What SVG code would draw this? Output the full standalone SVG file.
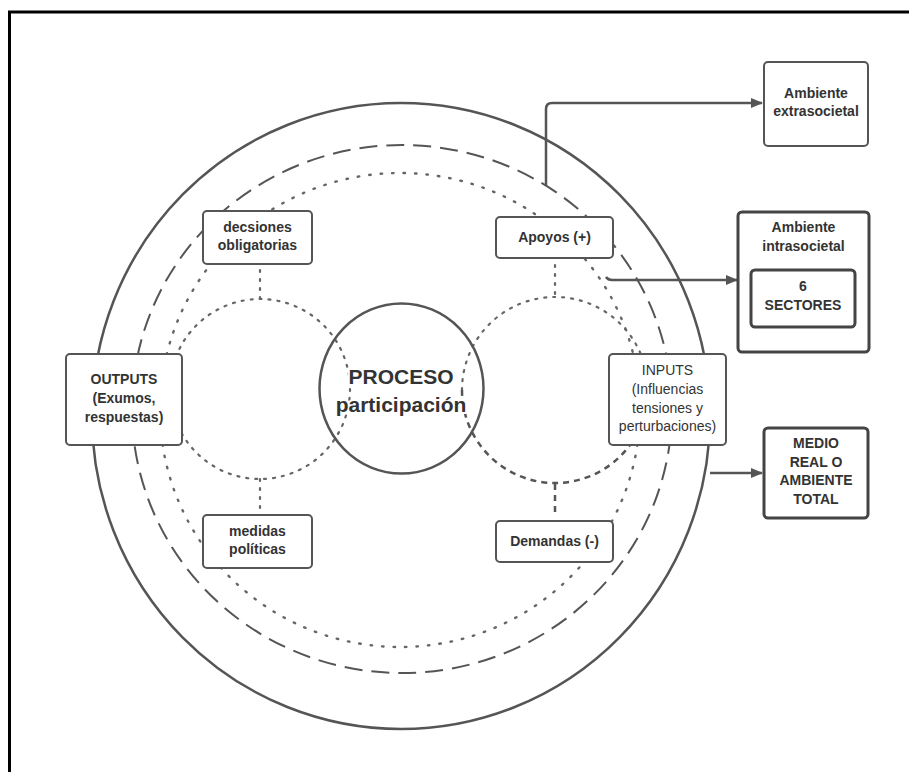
<svg xmlns="http://www.w3.org/2000/svg" width="909" height="772" viewBox="0 0 909 772">
<style>
text{font-family:"Liberation Sans",Arial,sans-serif;fill:#333;text-anchor:middle;dominant-baseline:central}
.b{font-weight:bold;font-size:14px}
.r{font-size:14px}
.c{font-size:21px;font-weight:bold;stroke:#fff;stroke-width:4;paint-order:stroke;stroke-linejoin:round}
.box{fill:#fff;stroke:#555;stroke-width:2}
.tbox{fill:#fff;stroke:#444;stroke-width:3}
.solid{fill:none;stroke:#555;stroke-width:2.5}
.dash{fill:none;stroke:#555;stroke-width:2;stroke-dasharray:18 9}
.dot{fill:none;stroke:#666;stroke-width:2.2;stroke-dasharray:2 7;stroke-linecap:round}
.bigdot{fill:none;stroke:#666;stroke-width:2.4;stroke-dasharray:1.5 10;stroke-linecap:round}
.sdash{fill:none;stroke:#555;stroke-width:2.5;stroke-dasharray:6 5}
.arr{fill:none;stroke:#555;stroke-width:2.5}
</style>
<defs>
<marker id="ah" markerWidth="12" markerHeight="10" refX="11" refY="5" orient="auto" markerUnits="userSpaceOnUse">
<path d="M0,0 L12,5 L0,10 Z" fill="#555"/>
</marker>
</defs>
<rect width="909" height="772" fill="#fff"/>
<g id="frame">
<path d="M9.5,772 V12 H909" fill="none" stroke="#000" stroke-width="3"/>
</g>
<g id="rings">
<ellipse cx="401" cy="416" rx="309" ry="313" class="solid"/>
<ellipse cx="402" cy="409" rx="270" ry="264" class="dash"/>
<ellipse cx="400" cy="410" rx="240" ry="237" class="bigdot"/>
</g>
<g id="inner-circles">
<circle cx="260" cy="389" r="90" class="dot"/>
<path d="M462,390 A93,93 0 0 1 648,390" class="dot"/>
<path d="M462,390 A93,93 0 0 0 648,390" class="sdash"/>
</g>
<g id="connectors">
<line x1="260" y1="270" x2="260" y2="299" class="dot"/>
<line x1="260" y1="479" x2="260" y2="512" class="dot"/>
<line x1="555" y1="265" x2="555" y2="297" class="dot"/>
<line x1="555" y1="484" x2="555" y2="516" class="sdash"/>
<path d="M546,186 V109 Q546,103 552,103 H762" class="arr" marker-end="url(#ah)"/>
<path d="M606,277 Q608,280 612,280 H737" class="arr" marker-end="url(#ah)"/>
<path d="M710,473 H762" class="arr" marker-end="url(#ah)"/>
</g>
<g id="proceso">
<ellipse cx="401.5" cy="388.5" rx="82" ry="85" fill="none" stroke="#555" stroke-width="2.5"/>
<text class="c" x="401" y="376">PROCESO</text>
<text class="c" x="401" y="404">participación</text>
</g>
<g id="decsiones">
<rect x="203" y="211" width="109" height="53" rx="4" class="box"/>
<text class="b" x="257.5" y="227">decsiones</text>
<text class="b" x="257.5" y="245">obligatorias</text>
</g>
<g id="outputs">
<rect x="66" y="354" width="116" height="91" rx="4" class="box"/>
<text class="b" x="124" y="379">OUTPUTS</text>
<text class="b" x="124" y="398">(Exumos,</text>
<text class="b" x="124" y="417">respuestas)</text>
</g>
<g id="medidas">
<rect x="203" y="515" width="109" height="53" rx="4" class="box"/>
<text class="b" x="257.5" y="531">medidas</text>
<text class="b" x="257.5" y="549">políticas</text>
</g>
<g id="apoyos">
<rect x="496" y="217" width="117" height="41" rx="4" class="box"/>
<text class="b" x="554.5" y="237">Apoyos (+)</text>
</g>
<g id="inputs">
<rect x="609" y="354" width="117" height="91" rx="4" class="box"/>
<text class="r" x="667.5" y="370">INPUTS</text>
<text class="r" x="667.5" y="389">(Influencias</text>
<text class="r" x="667.5" y="408">tensiones y</text>
<text class="r" x="667.5" y="426">perturbaciones)</text>
</g>
<g id="demandas">
<rect x="496" y="521" width="117" height="41" rx="4" class="box"/>
<text class="b" x="554.5" y="541">Demandas (-)</text>
</g>
<g id="extrasocietal">
<rect x="764" y="62" width="104" height="84" rx="4" class="box"/>
<text class="b" x="816" y="93">Ambiente</text>
<text class="b" x="816" y="111">extrasocietal</text>
</g>
<g id="intrasocietal">
<rect x="738" y="212" width="131" height="140" rx="4" class="tbox"/>
<text class="b" x="803.5" y="227">Ambiente</text>
<text class="b" x="803.5" y="246">intrasocietal</text>
</g>
<g id="sectores">
<rect x="751" y="270" width="104" height="57" rx="4" class="tbox" stroke-width="2.5"/>
<text class="b" x="803" y="286">6</text>
<text class="b" x="803" y="305" font-size="15">SECTORES</text>
</g>
<g id="medio">
<rect x="764" y="428" width="104" height="90" rx="4" class="tbox"/>
<text class="b" x="816" y="443">MEDIO</text>
<text class="b" x="816" y="462">REAL O</text>
<text class="b" x="816" y="480">AMBIENTE</text>
<text class="b" x="816" y="499">TOTAL</text>
</g>
</svg>
